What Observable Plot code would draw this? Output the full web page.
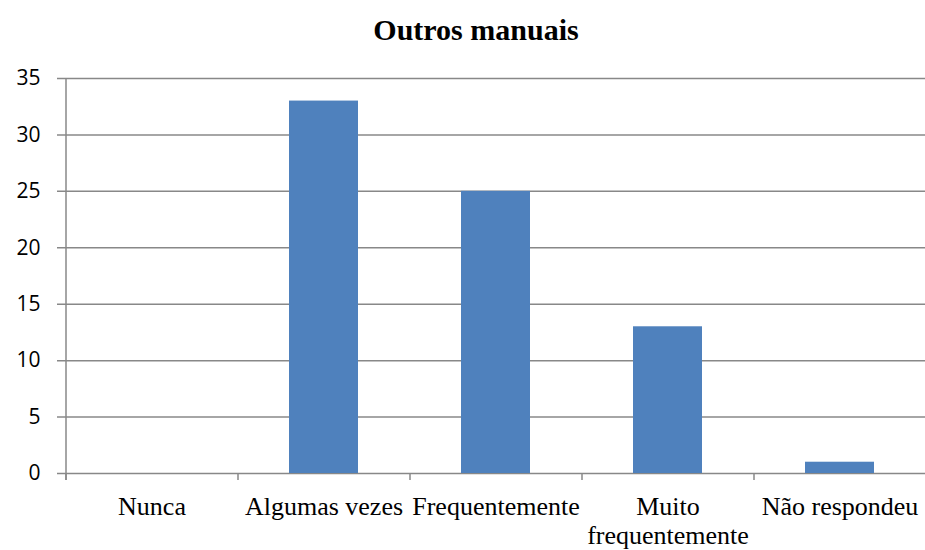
<!DOCTYPE html>
<html>
<head>
<meta charset="utf-8">
<script src="https://cdn.jsdelivr.net/npm/d3@7"></script>
<script src="https://cdn.jsdelivr.net/npm/@observablehq/plot@0.6"></script>
<style>
  html, body { margin: 0; padding: 0; background: #fff; }
  #title { box-sizing: border-box; width: 925px; height: 60px; padding-top: 15px; padding-left: 27px;
           font: bold 30px/30px "Liberation Serif", "Times New Roman", serif; text-align: center; color: #000; }
</style>
</head>
<body>
<div id="title">Outros manuais</div>
<div id="chart"></div>
<script>
const categories = ["Nunca", "Algumas vezes", "Frequentemente", "Muito\nfrequentemente", "Não respondeu"];
const values = [0, 33, 25, 13, 1];
const yTicks = [0, 5, 10, 15, 20, 25, 30, 35];

const data = categories.map((c, i) => ({category: c, value: values[i]}));

const W = 925, H = 490, mL = 65, mR = 0, mT = 18, mB = 77;
const step = (W - mL - mR) / categories.length;
const grid = "#888888";

const chart = Plot.plot({
  width: W, height: H,
  marginLeft: mL, marginRight: mR, marginTop: mT, marginBottom: mB,
  style: {background: "#fff"},
  x: {domain: categories, paddingInner: 0.6, paddingOuter: 0.3, align: 0.5, axis: null, label: null},
  y: {domain: [0, 35], axis: null, label: null},
  marks: [
    Plot.gridY(yTicks, {stroke: grid, strokeOpacity: 1, strokeWidth: 1.5, insetLeft: -8}),
    Plot.axisY({ticks: yTicks, tickSize: 0, tickPadding: 25, fontSize: 21, label: null,
                fontFamily: "Open Sans, sans-serif", fill: "#000"}),
    Plot.barY(data, {x: "category", y: "value", fill: "#4F81BD"}),
    Plot.ruleX([categories[0]], {dx: -step / 2, stroke: grid, strokeWidth: 1.5, insetBottom: -7}),
    Plot.axisX({tickSize: 7, tickFormat: () => "", label: null, dx: -step / 2, stroke: grid, strokeWidth: 1.5}),
    Plot.axisX({tickSize: 0, tickPadding: 22, fontSize: 26, lineHeight: 1.08, label: null,
                fontFamily: "Liberation Serif, Times New Roman, serif", fill: "#000"})
  ]
});
document.getElementById("chart").appendChild(chart);
</script>
</body>
</html>
